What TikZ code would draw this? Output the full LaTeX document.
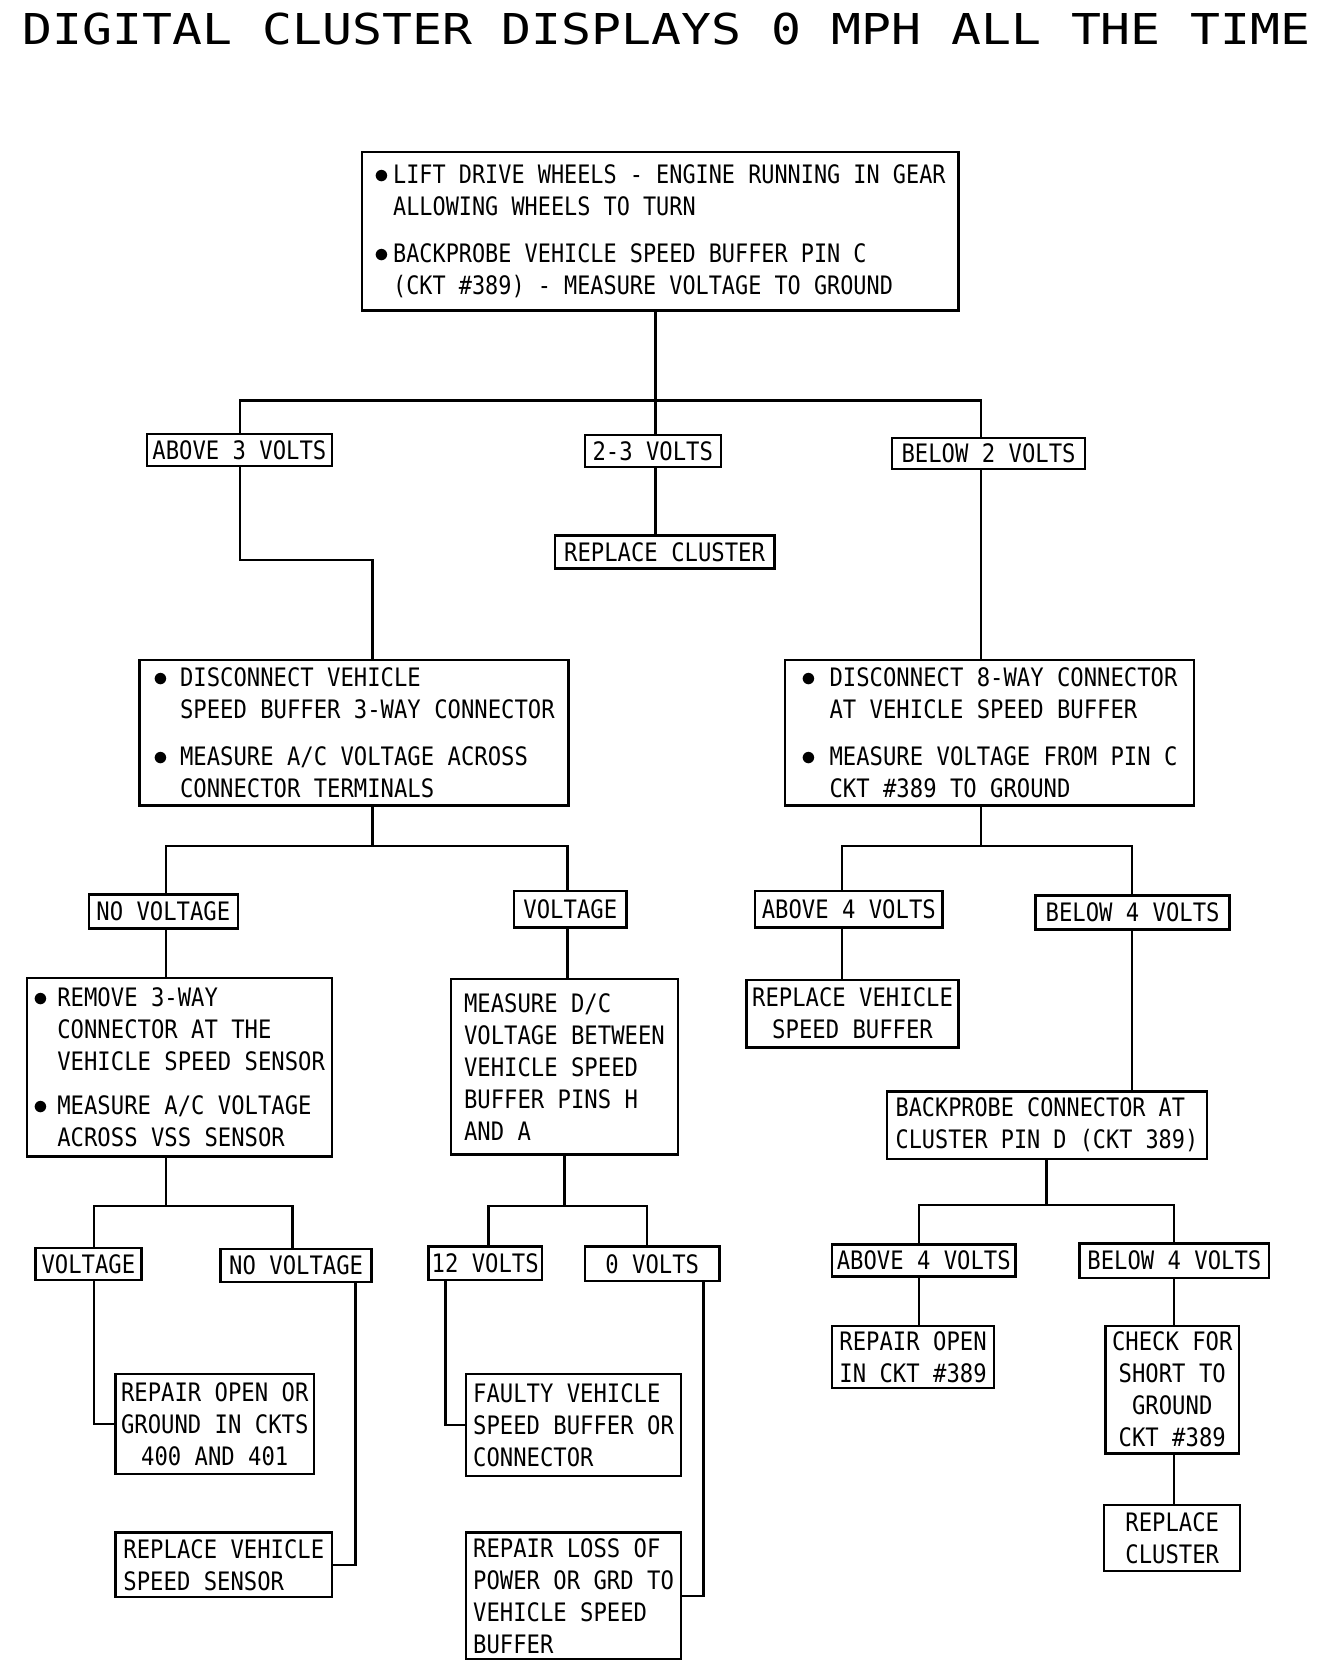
\documentclass[tikz,border=0pt]{standalone}
\usepackage{fontspec}
\setmainfont{DejaVu Sans Mono}[FakeStretch=0.875]
\newfontfamily\narrowfont{DejaVu Sans Mono}[FakeStretch=0.86]
\newfontfamily\titlefont{DejaVu Sans Mono}[FakeStretch=1.17]
\newcommand{\bul}[1]{\makebox[#1][l]{\scalebox{1.1}{$\bullet$}}}

\begin{document}
\begin{tikzpicture}[x=0.02cm, y=-0.02cm,
    box/.style={draw, line width=1.3pt, inner sep=0pt, font=\fontsize{13.5}{17}\selectfont},
    narrow/.style={font=\narrowfont\fontsize{13.5}{17}\selectfont},
    lbl/.style={box, align=center},
    txt/.style={box, align=left},
    conn/.style={line width=1.3pt}]
    \useasboundingbox (0,0) rectangle (1240,1568.6);

    \node[anchor=base, font=\titlefont\fontsize{22.6}{26}\selectfont] (title) at (622.5,42) {DIGITAL CLUSTER DISPLAYS 0 MPH ALL THE TIME};

    \node[txt, narrow, minimum width=11.14cm, minimum height=2.96cm] (top) at (616.5,216)
      {\bul{0.34cm}LIFT DRIVE WHEELS - ENGINE RUNNING IN GEAR\\
       \hspace*{0.34cm}ALLOWING WHEELS TO TURN\\[0.28cm]
       \bul{0.34cm}BACKPROBE VEHICLE SPEED BUFFER PIN C\\
       \hspace*{0.34cm}(CKT \#389) - MEASURE VOLTAGE TO GROUND};

    \node[lbl, minimum width=3.46cm, minimum height=0.6cm] (a3) at (223.5,420) {ABOVE 3 VOLTS};
    \node[lbl, minimum width=2.54cm, minimum height=0.6cm] (v23) at (609.5,421) {2-3 VOLTS};
    \node[lbl, minimum width=3.6cm, minimum height=0.58cm] (b2) at (923,423.5) {BELOW 2 VOLTS};
    \node[lbl, minimum width=4.1cm, minimum height=0.62cm] (rc1) at (620.5,515.5) {REPLACE CLUSTER};

    \node[txt, minimum width=8.02cm, minimum height=2.72cm] (dl) at (330.5,684)
      {\bul{0.5cm}DISCONNECT VEHICLE\\
       \hspace*{0.5cm}SPEED BUFFER 3-WAY CONNECTOR\\[0.28cm]
       \bul{0.5cm}MEASURE A/C VOLTAGE ACROSS\\
       \hspace*{0.5cm}CONNECTOR TERMINALS};
    \node[txt, minimum width=7.64cm, minimum height=2.72cm] (dr) at (924,684)
      {\bul{0.52cm}DISCONNECT 8-WAY CONNECTOR\\
       \hspace*{0.52cm}AT VEHICLE SPEED BUFFER\\[0.28cm]
       \bul{0.52cm}MEASURE VOLTAGE FROM PIN C\\
       \hspace*{0.52cm}CKT \#389 TO GROUND};

    \node[lbl, minimum width=2.78cm, minimum height=0.64cm] (nv1) at (152.5,851) {NO VOLTAGE};
    \node[lbl, minimum width=2.1cm, minimum height=0.68cm] (v1) at (532.5,849) {VOLTAGE};
    \node[lbl, minimum width=3.5cm, minimum height=0.68cm] (a4) at (792.5,849) {ABOVE 4 VOLTS};
    \node[lbl, minimum width=3.62cm, minimum height=0.64cm] (b4) at (1057.5,852) {BELOW 4 VOLTS};

    \node[txt, minimum width=5.7cm, minimum height=3.34cm] (rm) at (167.5,996.5)
      {\bul{0.44cm}REMOVE 3-WAY\\
       \hspace*{0.44cm}CONNECTOR AT THE\\
       \hspace*{0.44cm}VEHICLE SPEED SENSOR\\[0.24cm]
       \bul{0.44cm}MEASURE A/C VOLTAGE\\
       \hspace*{0.44cm}ACROSS VSS SENSOR};
    \node[txt, minimum width=4.24cm, minimum height=3.28cm] (md) at (527,996)
      {MEASURE D/C\\ VOLTAGE BETWEEN\\ VEHICLE SPEED\\ BUFFER PINS H\\ AND A};
    \node[lbl, minimum width=3.96cm, minimum height=1.26cm] (rvb) at (796,946.5)
      {REPLACE VEHICLE\\ SPEED BUFFER};
    \node[txt, narrow, minimum width=5.98cm, minimum height=1.26cm] (bp) at (977.5,1050.5)
      {BACKPROBE CONNECTOR AT\\ CLUSTER PIN D (CKT 389)};

    \node[lbl, minimum width=1.98cm, minimum height=0.6cm] (v2) at (82.5,1180) {VOLTAGE};
    \node[lbl, minimum width=2.82cm, minimum height=0.62cm] (nv2) at (276.5,1181.5) {NO VOLTAGE};
    \node[lbl, minimum width=2.12cm, minimum height=0.62cm] (v12) at (453,1179.5) {12 VOLTS};
    \node[lbl, minimum width=2.52cm, minimum height=0.64cm] (v0) at (609,1180) {0 VOLTS};
    \node[lbl, minimum width=3.42cm, minimum height=0.6cm] (a4b) at (862.5,1177) {ABOVE 4 VOLTS};
    \node[lbl, minimum width=3.54cm, minimum height=0.64cm] (b4b) at (1096.5,1177) {BELOW 4 VOLTS};

    \node[lbl, minimum width=3.7cm, minimum height=1.86cm] (ro) at (200.5,1329.5)
      {REPAIR OPEN OR\\ GROUND IN CKTS\\ 400 AND 401};
    \node[txt, minimum width=4.04cm, minimum height=1.2cm] (rvs) at (209,1461)
      {REPLACE VEHICLE\\ SPEED SENSOR};
    \node[txt, minimum width=4.02cm, minimum height=1.9cm] (fv) at (535.5,1330.5)
      {FAULTY VEHICLE\\ SPEED BUFFER OR\\ CONNECTOR};
    \node[txt, minimum width=4.02cm, minimum height=2.36cm] (rl) at (535.5,1490)
      {REPAIR LOSS OF\\ POWER OR GRD TO\\ VEHICLE SPEED\\ BUFFER};
    \node[lbl, minimum width=3.02cm, minimum height=1.16cm] (ro389) at (852.5,1267)
      {REPAIR OPEN\\ IN CKT \#389};
    \node[lbl, minimum width=2.5cm, minimum height=2.38cm] (cs) at (1094.5,1297.5)
      {CHECK FOR\\ SHORT TO\\ GROUND\\ CKT \#389};
    \node[lbl, minimum width=2.54cm, minimum height=1.24cm] (rc2) at (1094.5,1436)
      {REPLACE\\ CLUSTER};

    \coordinate (j1) at (612,374);
    \coordinate (ja) at (224,374);
    \coordinate (jb) at (916,374);
    \coordinate (k1) at (224,523);
    \coordinate (k2) at (348,523);
    \coordinate (m1) at (348,790);
    \coordinate (m2) at (155,790);
    \coordinate (m3) at (530,790);
    \coordinate (n1) at (916,790);
    \coordinate (n2) at (786,790);
    \coordinate (n3) at (1057,790);
    \coordinate (p1) at (155,1126);
    \coordinate (p2) at (88,1126);
    \coordinate (p3) at (273,1126);
    \coordinate (p4) at (332,1126);
    \coordinate (q1) at (527,1126);
    \coordinate (q2) at (456,1126);
    \coordinate (q3) at (604,1126);
    \coordinate (q4) at (416,1126);
    \coordinate (q5) at (657,1126);
    \coordinate (r1) at (977,1125);
    \coordinate (r2) at (858,1125);
    \coordinate (r3) at (1096,1125);

    \draw[conn] (top.south -| j1) -- (j1);
    \draw[conn] (a3.north -| ja) -- (ja) -- (jb) -- (b2.north -| jb);
    \draw[conn] (j1) -- (v23.north -| j1);
    \draw[conn] (v23.south -| j1) -- (rc1.north -| j1);
    \draw[conn] (a3.south -| k1) -- (k1) -- (k2) -- (dl.north -| k2);
    \draw[conn] (b2.south -| jb) -- (dr.north -| jb);
    \draw[conn] (dl.south -| m1) -- (m1);
    \draw[conn] (nv1.north -| m2) -- (m2) -- (m3) -- (v1.north -| m3);
    \draw[conn] (dr.south -| n1) -- (n1);
    \draw[conn] (a4.north -| n2) -- (n2) -- (n3) -- (b4.north -| n3);
    \draw[conn] (nv1.south -| m2) -- (rm.north -| m2);
    \draw[conn] (v1.south -| m3) -- (md.north -| m3);
    \draw[conn] (a4.south -| n2) -- (rvb.north -| n2);
    \draw[conn] (b4.south -| n3) -- (bp.north -| n3);
    \draw[conn] (rm.south -| p1) -- (p1);
    \draw[conn] (v2.north -| p2) -- (p2) -- (p3) -- (nv2.north -| p3);
    \draw[conn] (v2.south -| p2) |- (ro.west);
    \draw[conn] (nv2.south -| p4) |- (rvs.east);
    \draw[conn] (md.south -| q1) -- (q1);
    \draw[conn] (v12.north -| q2) -- (q2) -- (q3) -- (v0.north -| q3);
    \draw[conn] (v12.south -| q4) |- (fv.west);
    \draw[conn] (v0.south -| q5) |- (rl.east);
    \draw[conn] (bp.south -| r1) -- (r1);
    \draw[conn] (a4b.north -| r2) -- (r2) -- (r3) -- (b4b.north -| r3);
    \draw[conn] (a4b.south -| r2) -- (ro389.north -| r2);
    \draw[conn] (b4b.south -| r3) -- (cs.north -| r3);
    \draw[conn] (cs.south -| r3) -- (rc2.north -| r3);
\end{tikzpicture}
\end{document}
